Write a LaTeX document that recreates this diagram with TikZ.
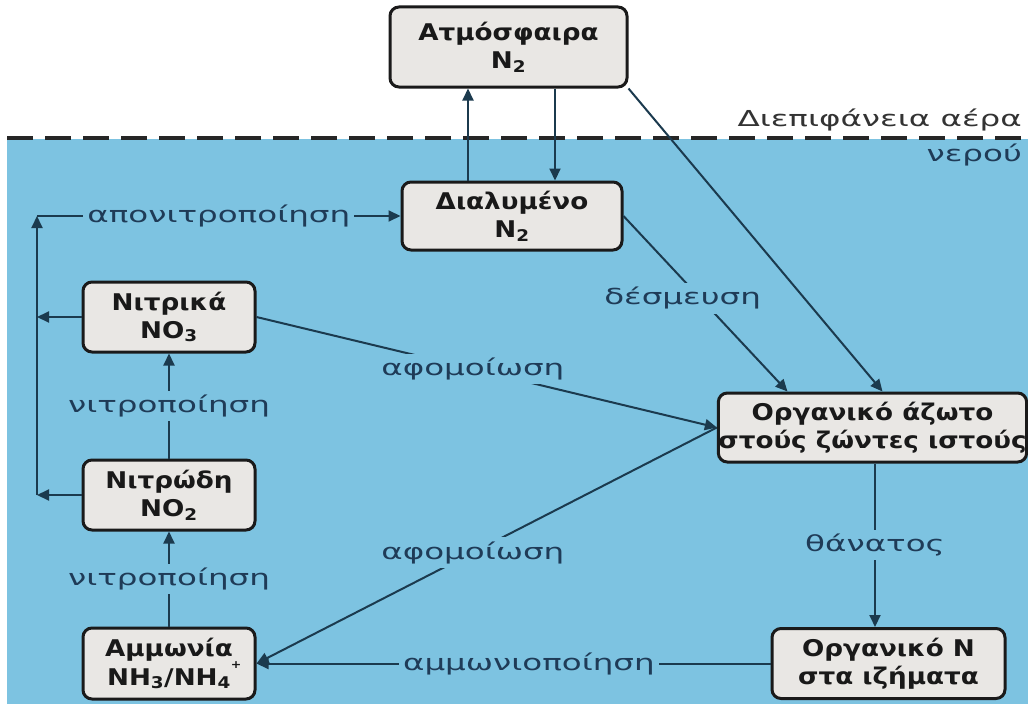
\documentclass[tikz,border=0pt]{standalone}
\usepackage{fontspec}
\setmainfont{DejaVu Sans}
\newfontfamily\labf{DejaVu Sans}[FakeStretch=1.48]
\newfontfamily\boxff{DejaVu Sans}[FakeStretch=1.14]
\usetikzlibrary{arrows.meta}
\definecolor{water}{HTML}{7DC3E1}
\definecolor{boxfill}{HTML}{E9E7E4}
\definecolor{boxline}{HTML}{1A1A1A}
\definecolor{lnk}{HTML}{1B3A4E}
\definecolor{lbltext}{HTML}{1F3B57}
\begin{document}
\begin{tikzpicture}[x=1pt,y=-1pt,
  box/.style={draw=boxline, fill=boxfill, line width=3pt, rounded corners=9pt, align=center,
    font=\boxff\bfseries\fontsize{23}{28}\selectfont, inner sep=0pt, text=black!90},
  conn/.style={draw=lnk, line width=2pt, -{Triangle[length=12pt,width=11pt]}},
  lbl/.style={fill=water, text=lbltext, font=\labf\fontsize{22}{26}\selectfont, inner sep=4pt},
  iface/.style={font=\labf\fontsize{22}{26}\selectfont, inner sep=0pt}
]
\useasboundingbox (0,0) rectangle (1028,709);
\fill[white] (0,0) rectangle (1028,709);
\fill[water] (7,139) rectangle (1028,704);
\draw[draw=black!85, line width=4.5pt, dash pattern=on 26pt off 12pt] (7,138) -- (1028,138);
\node[iface, anchor=south east, text=black!80] (ifa) at (1022,131) {Διεπιφάνεια αέρα};
\node[iface, anchor=north east, text=lbltext] (ifb) at (1022,144) {νερού};

\node[box, minimum width=237pt, minimum height=80pt] (atm) at (508.5,47) {Ατμόσφαιρα\\N\textsubscript{2}};
\node[box, minimum width=220pt, minimum height=68pt] (dis) at (512,216) {Διαλυμένο\\N\textsubscript{2}};
\node[box, minimum width=172pt, minimum height=70pt] (no3) at (169,317) {Νιτρικά\\NO\textsubscript{3}};
\node[box, minimum width=172pt, minimum height=70pt] (no2) at (169,495) {Νιτρώδη\\NO\textsubscript{2}};
\node[box, minimum width=172pt, minimum height=71pt] (nh) at (169,663.5) {Αμμωνία\\NH\textsubscript{3}/NH\textsubscript{4}\rlap{\raisebox{1.3ex}{\fontsize{11}{11}\selectfont +}}};
\node[box, minimum width=305pt, minimum height=69pt] (orgl) at (872.5,427.5) {Οργανικό άζωτο\\στούς ζώντες ιστούς};
\node[box, minimum width=233pt, minimum height=70pt] (orgs) at (888.5,663.5) {Οργανικό N\\στα ιζήματα};

\coordinate (lt) at (37,216);
\coordinate (lb) at (37,495);
\coordinate (up1) at ([xshift=-44pt]dis.north);
\coordinate (dn1) at ([xshift=43pt]dis.north);
\coordinate (ob1) at ([xshift=-85pt]orgl.north);
\coordinate (ob2) at ([xshift=10pt]orgl.north);
\coordinate (os) at ([xshift=2.5pt]orgl.south);

\draw[conn] (up1) -- (up1 |- atm.south);
\draw[conn] (dn1 |- atm.south) -- (dn1);
\draw[conn] (lt) -- node[lbl]{απονιτροποίηση} (dis.west);
\draw[conn] (lb) -- (lt);
\draw[conn] (no3.west) -- (no3.west -| lt);
\draw[conn] (no2.west) -- (lb);
\draw[conn] (nh.north) -- node[lbl]{νιτροποίηση} (no2.south);
\draw[conn] (no2.north) -- node[lbl]{νιτροποίηση} (no3.south);
\draw[conn] (dis.east) -- node[lbl, pos=0.47, xshift=-18pt]{δέσμευση} (ob1);
\draw[conn] (atm.south east) -- (ob2);
\draw[conn] (no3.east) -- node[lbl, pos=0.47]{αφομοίωση} (orgl.west);
\draw[conn] (orgl.west) -- node[lbl, pos=0.53]{αφομοίωση} (nh.east);
\draw[conn] (os) -- node[lbl]{θάνατος} (os |- orgs.north);
\draw[conn] (orgs.west) -- node[lbl, pos=0.47]{αμμωνιοποίηση} (nh.east);
\end{tikzpicture}
\end{document}
